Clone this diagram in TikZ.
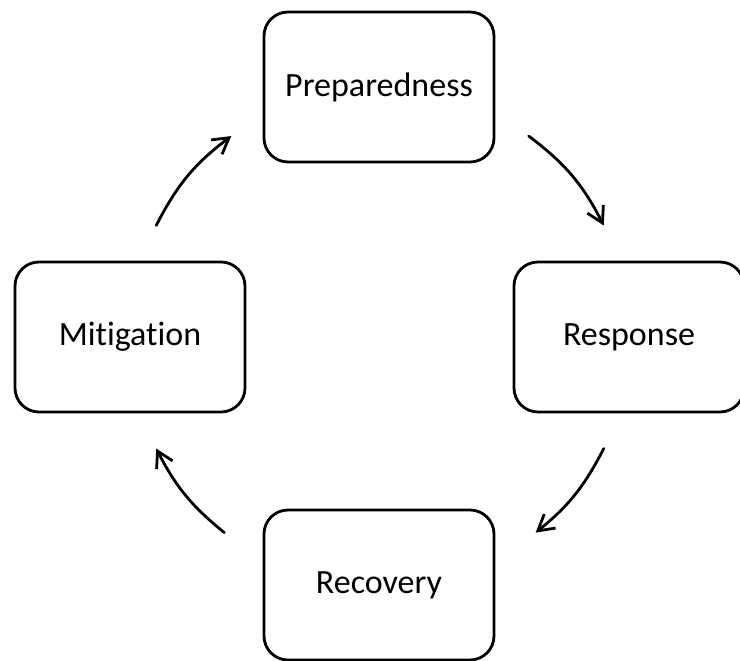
\documentclass[tikz,border=0pt]{standalone}
\usepackage{fontspec}
\setmainfont[Ligatures=NoCommon]{Carlito}
\usetikzlibrary{arrows.meta,positioning}

\begin{document}
\begin{tikzpicture}[
    x=1pt,y=-1pt,
    font=\fontsize{34}{40}\selectfont,
    phase/.style={draw,line width=2.8pt,rounded corners=24pt,align=center,minimum width=230pt,minimum height=150pt},
    cycarrow/.style={-{Straight Barb[angle=60:18pt]},line width=2.8pt,line cap=round}
  ]
    \useasboundingbox (0,0) rectangle (740,661);
    \coordinate (c) at (380,337);
    \node[phase] (prep) at (379,87) {Preparedness};
    \node[phase] (resp) at (629,337) {Response};
    \node[phase] (reco) at (379,585) {Recovery};
    \node[phase] (miti) at (130,337) {Mitigation};
    % free ends of the cycle arrows, on a circle round (c)
    \foreach \n/\a in {a1/53.5,a2/26.5,b1/-26.5,b2/-51.5,c1/231.5,c2/206.5,d1/153.5,d2/126.5}
      \coordinate (\n) at ([shift={(\a:250pt)}]c);
    \draw[cycarrow] (a1) to[bend left=13] (a2);
    \draw[cycarrow] (b1) to[bend left=12] (b2);
    \draw[cycarrow] (c1) to[bend left=12] (c2);
    \draw[cycarrow] (d1) to[bend left=13] (d2);
  \end{tikzpicture}
\end{document}
